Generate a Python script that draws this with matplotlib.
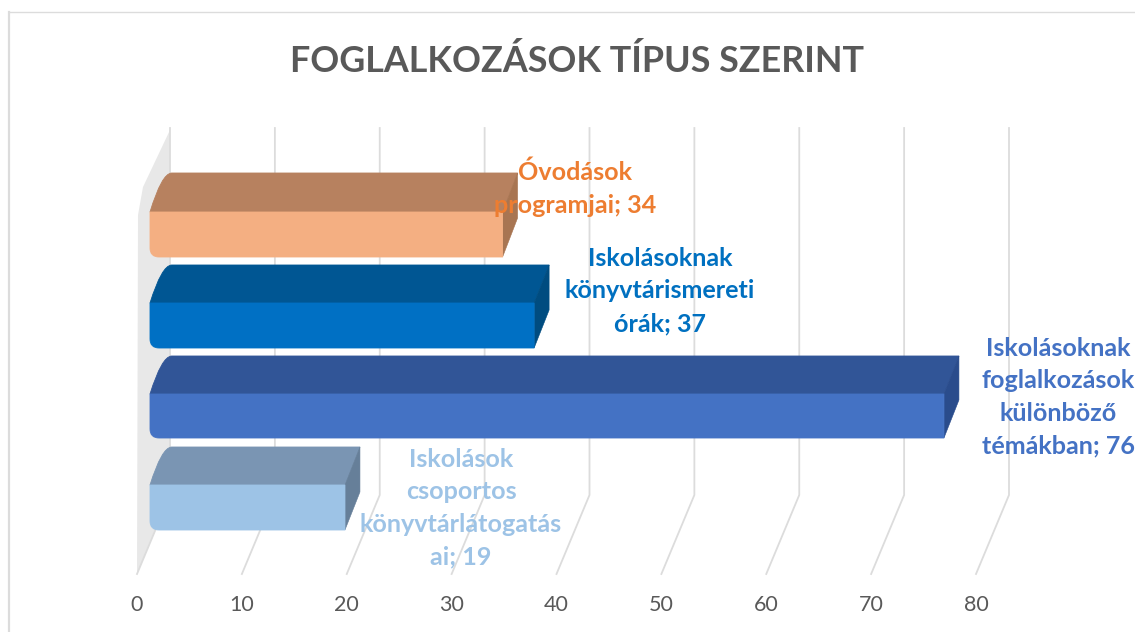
import matplotlib
matplotlib.use("Agg")
import matplotlib.pyplot as plt
from matplotlib.path import Path
from matplotlib.patches import PathPatch, Polygon

# Data
title = "FOGLALKOZÁSOK TÍPUS SZERINT"
labels = ["Iskolások\ncsoportos\nkönyvtárlátogatás\nai; 19",
          "Iskolásoknak\nfoglalkozások\nkülönböző\ntémákban; 76",
          "Iskolásoknak\nkönyvtárismereti\nórák; 37",
          "Óvodások\nprogramjai; 34"]
values = [19, 76, 37, 34]
front_colors = ["#9dc3e6", "#4472c4", "#0070c4", "#f4af82"]
top_colors = ["#7a95b3", "#315597", "#005693", "#b7815f"]
side_colors = ["#667f99", "#2a4c8c", "#004c80", "#a87552"]
text_colors = ["#9dc3e6", "#4472c4", "#0070c0", "#ed7d31"]
ticks = [0, 10, 20, 30, 40, 50, 60, 70, 80]

W, H = 1135, 632
FONT = "Lato"
fig = plt.figure(figsize=(W/100, H/100), dpi=100, facecolor="white")

# Axes frame: x=0..80 on the front floor edge, y measured in pixels above it
L, R, B, T = 137, 976, 574, 128
ax = fig.add_axes([L/W, 1-B/H, (R-L)/W, (B-T)/H])
ax.set_xlim(0, 80)
ax.set_ylim(0, B-T)
ax.patch.set_alpha(0)
PX = 80/(R-L)          # data units per pixel in x
def Y(py): return B-py # pixel row to axes y

# Outer chart border: top and left only
fig.add_artist(plt.Line2D([9/W, 9/W], [0, 1-12/H], color="#dcdcdc", lw=1.6))
fig.add_artist(plt.Line2D([9/W, 1], [1-12/H, 1-12/H], color="#dcdcdc", lw=1.0))

# Oblique depth
DX = 33*PX; FLOOR = B-495

# Side wall
ax.add_patch(Polygon([(DX, Y(130)), (6*PX, Y(187)), (1*PX, Y(215)), (0, 0), (DX, FLOOR)],
                     closed=True, fc="#e8e8e8", ec="none", zorder=1))

# Gridlines
for t in ticks:
    ax.plot([t, t+DX, t+DX], [0, FLOOR, Y(T)], color="#dcdcdc", lw=1.3, zorder=2,
            clip_on=False, solid_joinstyle="round")

# Bars
BAR_LEFT = 13*PX       # visible left edge of the bars
BAR_X0 = 8.3*PX        # origin of the bar lengths on the front plane
BAR_SCALE = 1.002
FRONT_BOTTOM = [530, 438, 348, 257]
FRONT_TOP = [485, 394, 303, 212]
BACK_TOP = [447, 356, 265, 173]
OB = 15*PX             # horizontal depth of the bars
RAD = 9                # corner rounding in pixels

for i, v in enumerate(values):
    x0 = BAR_LEFT
    x1 = BAR_X0 + v*BAR_SCALE
    yb, yt, yk = Y(FRONT_BOTTOM[i]), Y(FRONT_TOP[i]), Y(BACK_TOP[i])
    r = RAD*PX
    # top face with rounded far-left corner
    top = Path([(x0, yt), (x0+r*1.3, yk-r*0.5), (x0+2.4*r, yk), (x1+OB, yk), (x1, yt), (x0, yt)],
               [Path.MOVETO, Path.CURVE3, Path.CURVE3, Path.LINETO, Path.LINETO, Path.CLOSEPOLY])
    ax.add_patch(PathPatch(top, fc=top_colors[i], ec=top_colors[i], lw=0.6, zorder=3))
    # right side face
    ax.add_patch(Polygon([(x1, yt), (x1+OB, yk), (x1+OB, yk-(yt-yb)), (x1, yb)],
                         closed=True, fc=side_colors[i], ec=side_colors[i], lw=0.4, zorder=3))
    # front face with rounded lower-left corner
    front = Path([(x0, yt), (x1, yt), (x1, yb), (x0+r, yb), (x0, yb), (x0, yb+RAD), (x0, yt)],
                 [Path.MOVETO, Path.LINETO, Path.LINETO, Path.LINETO, Path.CURVE3, Path.CURVE3, Path.CLOSEPOLY])
    ax.add_patch(PathPatch(front, fc=front_colors[i], ec=front_colors[i], lw=0.6, zorder=4))

# Data labels
label_pos = [(461, 508), (1058, 397), (660, 291), (575, 189)]
for lab, c, (px, py) in zip(labels, text_colors, label_pos):
    ax.text((px-L)*PX, Y(py), lab, color=c, fontsize=18.1, fontweight="bold", family=FONT,
            ha="center", va="center", linespacing=1.5, zorder=6, clip_on=False)

# Axis ticks
ax.set_xticks(ticks)
ax.set_xticklabels([str(t) for t in ticks], fontsize=15.5, color="#595959", family=FONT)
ax.tick_params(axis="x", length=0, pad=15)
ax.set_yticks([])
for s in ax.spines.values():
    s.set_visible(False)

fig.text(577/W, 1-61/H, title, color="#595959", fontsize=25.8, fontweight="bold",
         family=FONT, ha="center", va="center")

fig.savefig("out.png", dpi=100)
